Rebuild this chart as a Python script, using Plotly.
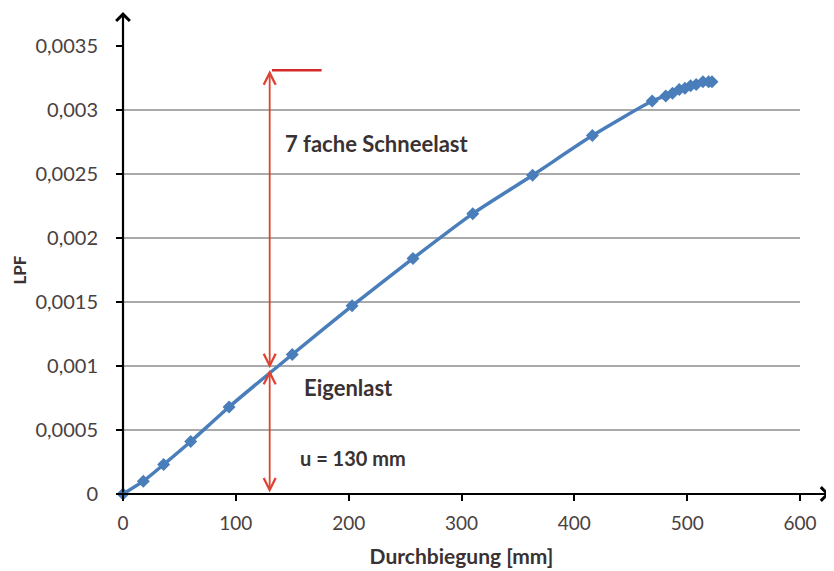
import plotly.graph_objects as go

# Data
durchbiegung = [0, 18, 36, 60, 94, 150, 203, 257, 310, 363, 416, 469,
                481, 487, 493, 498, 503, 508, 514, 519, 522]
lpf = [0, 0.00010, 0.00023, 0.00041, 0.00068, 0.00109, 0.00147, 0.00184,
       0.00219, 0.00249, 0.00280, 0.00307,
       0.00311, 0.00313, 0.00316, 0.00317, 0.00319, 0.00320, 0.00322, 0.00322, 0.00322]

y_tickvals = [0, 0.0005, 0.001, 0.0015, 0.002, 0.0025, 0.003, 0.0035]
y_ticktext = ["0", "0,0005", "0,001", "0,0015", "0,002", "0,0025", "0,003", "0,0035"]
x_tickvals = [0, 100, 200, 300, 400, 500, 600]
x_ticktext = ["0", "100", "200", "300", "400", "500", "600"]

u_eigen = 130
lpf_eigen = 0.00097
lpf_schnee = 0.00331
schnee_line_end = 176

FONT = "Lato"
TXT = "#3a3232"
TICK = "#4a4040"
BLUE = "#4a7ebb"
RED = "#dd4433"

fig = go.Figure()
fig.add_trace(go.Scatter(
    x=durchbiegung, y=lpf, mode="lines+markers",
    line=dict(color=BLUE, width=3.5, shape="spline", smoothing=0.6),
    marker=dict(symbol="diamond", size=10, color=BLUE),
    showlegend=False, cliponaxis=False,
))

fig.update_layout(
    width=834, height=571,
    margin=dict(l=110, r=42, t=38, b=85),
    paper_bgcolor="white", plot_bgcolor="white",
    font=dict(family=FONT, color=TICK, size=13),
    xaxis=dict(
        range=[0, 600], tickvals=x_tickvals, ticktext=x_ticktext,
        showgrid=False, zeroline=False, showline=False,
        ticks="outside", ticklen=6, tickwidth=2, tickcolor="black",
        tickfont=dict(size=19, color=TICK), ticklabelstandoff=6,
        title=dict(text="<b>Durchbiegung [mm]</b>", font=dict(size=21, color=TXT), standoff=16),
    ),
    yaxis=dict(
        range=[0, 0.0035], tickvals=y_tickvals, ticktext=y_ticktext,
        showgrid=True, gridcolor="#aaaaaa", gridwidth=1.5,
        zeroline=False, showline=False,
        ticks="outside", ticklen=6, tickwidth=2, tickcolor="black",
        tickfont=dict(size=20, color=TICK), ticklabelstandoff=14,
        title=dict(text="<b>LPF</b>", font=dict(size=17, color=TXT), standoff=4),
    ),
)

annotations = []
# axis arrows
annotations.append(dict(xref="paper", yref="paper", x=0, y=1 + 34 / 448,
                        ax=0, ay=482, axref="pixel", ayref="pixel",
                        showarrow=True, arrowhead=4, arrowsize=1.2, arrowwidth=2.2,
                        arrowcolor="black", text=""))
annotations.append(dict(xref="paper", yref="paper", x=1 + 30 / 682, y=0,
                        ax=-712, ay=0,
                        showarrow=True, arrowhead=4, arrowsize=1.2, arrowwidth=2.2,
                        arrowcolor="black", text=""))
# red double arrows
annotations.append(dict(xref="x", yref="y", x=u_eigen, y=lpf_schnee,
                        axref="x", ayref="y", ax=u_eigen, ay=lpf_eigen,
                        showarrow=True, arrowhead=5, startarrowhead=5, arrowside="end+start",
                        arrowsize=1.3, startarrowsize=1.3, arrowwidth=1.8, arrowcolor=RED, text=""))
annotations.append(dict(xref="x", yref="y", x=u_eigen, y=lpf_eigen,
                        axref="x", ayref="y", ax=u_eigen, ay=0,
                        showarrow=True, arrowhead=5, startarrowhead=5, arrowside="end+start",
                        arrowsize=1.3, startarrowsize=1.3, arrowwidth=1.8, arrowcolor=RED, text=""))
# text labels
annotations.append(dict(xref="x", yref="y", x=225, y=0.00274, text="<b>7 fache Schneelast</b>",
                        showarrow=False, font=dict(size=22, color=TXT, family=FONT)))
annotations.append(dict(xref="x", yref="y", x=200, y=0.00083, text="<b>Eigenlast</b>",
                        showarrow=False, font=dict(size=22, color=TXT, family=FONT)))
annotations.append(dict(xref="x", yref="y", x=204, y=0.00028, text="<b>u = 130 mm</b>",
                        showarrow=False, font=dict(size=20, color=TXT, family=FONT)))
fig.update_layout(annotations=annotations)

fig.add_shape(type="line", xref="x", yref="y", x0=u_eigen + 2, x1=schnee_line_end,
              y0=lpf_schnee, y1=lpf_schnee, line=dict(color="#d42a2a", width=2.5))

fig.write_html("out.html")
